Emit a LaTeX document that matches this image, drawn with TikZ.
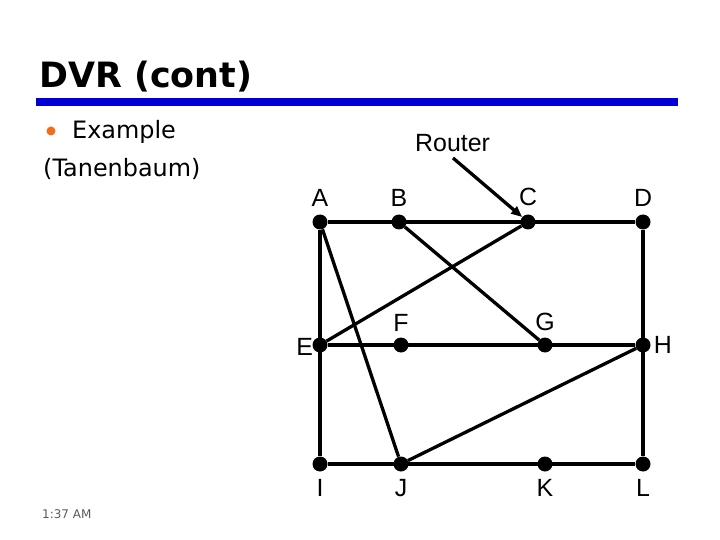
\documentclass[tikz,border=0pt]{standalone}
\usepackage{fontspec}
\setmainfont{DejaVu Sans}
\newfontfamily\labelfont{Liberation Sans}
\usetikzlibrary{arrows.meta, positioning}
\definecolor{rulecolor}{RGB}{0,0,214}
\definecolor{bulletcolor}{RGB}{240,110,30}
\definecolor{footcolor}{RGB}{90,90,90}

\begin{document}
\begin{tikzpicture}[x=1bp, y=-1bp,
  router/.style={circle, fill=black, inner sep=0pt, minimum size=15bp},
  link/.style={line width=3.3bp},
  tag/.style={font=\labelfont\fontsize{25}{30}\selectfont, inner sep=0pt},
  slidetext/.style={anchor=base west, inner sep=0pt, font=\fontsize{24}{29}\selectfont}
]
  \useasboundingbox (0,0) rectangle (720,540);

  % heading and bullet text
  \node[anchor=base west, inner sep=0pt, font=\bfseries\fontsize{35}{42}\selectfont] (title) at (39,88) {DVR (cont)};
  \fill[rulecolor] (36,98) rectangle (678,106);
  \fill[bulletcolor] (51,131) circle (4.5);
  \node[slidetext] (example) at (72,139) {Example};
  \node[slidetext] (source) at (43,177) {(Tanenbaum)};
  \node[anchor=base west, inner sep=0pt, font=\fontsize{12}{14}\selectfont, text=footcolor] (clock) at (42,518) {1:37 AM};

  % routers
  \node[router] (A) at (320,222) {};
  \node[router] (B) at (399,222) {};
  \node[router] (C) at (528,222) {};
  \node[router] (D) at (643,222) {};
  \node[router] (E) at (320,345) {};
  \node[router] (F) at (401,345) {};
  \node[router] (G) at (545,345) {};
  \node[router] (H) at (643,345) {};
  \node[router] (I) at (320,464) {};
  \node[router] (J) at (401,464) {};
  \node[router] (K) at (545,464) {};
  \node[router] (L) at (643,464) {};

  \node[tag, above=8bp of A] {A};
  \node[tag, above=8bp of B] {B};
  \node[tag, above=8bp of C] {C};
  \node[tag, above=8bp of D] {D};
  \node[tag, left=-1bp of E, yshift=-2bp] {E};
  \node[tag, above=6bp of F] {F};
  \node[tag, above=6bp of G] {G};
  \node[tag, right=3bp of H] {H};
  \node[tag, below=7bp of I] {I};
  \node[tag, below=7bp of J] {J};
  \node[tag, below=7bp of K] {K};
  \node[tag, below=7bp of L] {L};

  % lines
  \draw[link] (A) -- (D);
  \draw[link] (E) -- (H);
  \draw[link] (I) -- (L);
  \draw[link] (A) -- (I);
  \draw[link] (D) -- (L);
  \draw[link] (A) -- (J);
  \draw[link] (B) -- (G);
  \draw[link] (C) -- (E);
  \draw[link] (J) -- (H);

  \node[tag, anchor=base west] (routerlabel) at (415,152) {Router};
  \coordinate (tail) at (453,158);
  \draw[link, -{Triangle[length=11bp, width=9bp]}] (tail) -- (C);
\end{tikzpicture}
\end{document}
